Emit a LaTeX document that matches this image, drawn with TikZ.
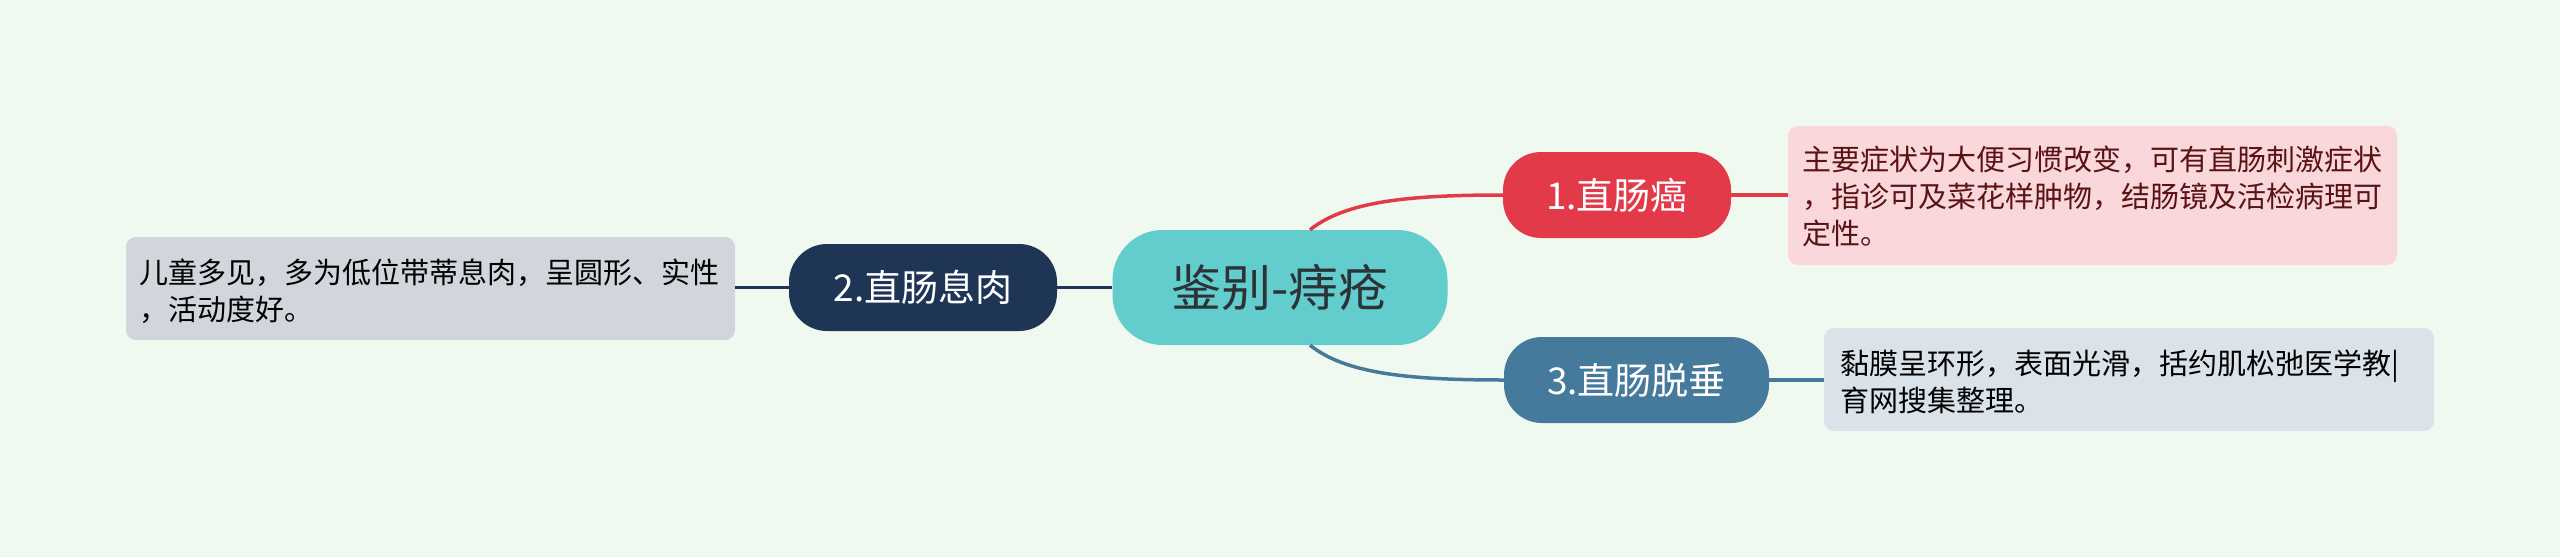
\documentclass[tikz,border=0pt]{standalone}
\usepackage{fontspec}
\newfontfamily\cjk{Noto Sans CJK SC}
\definecolor{bgc}{HTML}{F0F9EF}
\definecolor{rootc}{HTML}{63CCCC}
\definecolor{roottxt}{HTML}{2B3338}
\definecolor{redc}{HTML}{E33A4A}
\definecolor{navyc}{HTML}{1E3556}
\definecolor{bluec}{HTML}{467A9C}
\definecolor{pinkc}{HTML}{F9D7DB}
\definecolor{pinktxt}{HTML}{5A1212}
\definecolor{greyc}{HTML}{D1D6DD}
\definecolor{lbluec}{HTML}{DAE3EA}
\begin{document}
\begin{tikzpicture}[x=1pt,y=-1pt,
  topic/.style={rounded corners=38pt, minimum height=86pt, inner sep=0pt,
    font=\cjk\fontsize{37}{44}\selectfont, text=white},
  descbox/.style={rounded corners=10pt, inner sep=0pt},
  desctext/.style={anchor=west, align=left, inner sep=0pt,
    font=\cjk\fontsize{29}{37}\selectfont},
  conn/.style={line width=3.5pt}
]
\useasboundingbox[fill=bgc] (0,0) rectangle (2560,557);

\node[fill=rootc, rounded corners=50pt, minimum width=335pt, minimum height=115pt,
  inner sep=0pt, text=roottxt, font=\cjk\fontsize{50}{58}\selectfont] (root) at (1280,287.5) {鉴别-痔疮};

\node[topic, fill=redc, minimum width=228pt] (n1) at (1617,195) {1.直肠癌};
\node[topic, fill=bluec, minimum width=265pt] (n3) at (1636.5,380) {3.直肠脱垂};
\node[topic, fill=navyc, minimum width=268pt, minimum height=87pt] (n2) at (923,287.5) {2.直肠息肉};

\node[descbox, fill=pinkc, minimum width=609pt, minimum height=139pt] (d1) at (2092.5,195.5) {};
\node[desctext, text=pinktxt] (d1t) at (1802,196) {主要症状为大便习惯改变，可有直肠刺激症状\\，指诊可及菜花样肿物，结肠镜及活检病理可\\定性。};

\node[descbox, fill=lbluec, minimum width=610pt, minimum height=103pt] (d3) at (2129,379.5) {};
\node[desctext, text=black] (d3t) at (1840,382) {黏膜呈环形，表面光滑，括约肌松弛医学教|\\育网搜集整理。};

\node[descbox, fill=greyc, minimum width=609pt, minimum height=103pt] (d2) at (430.5,288.5) {};
\node[desctext, text=black] (d2t) at (139,291) {儿童多见，多为低位带蒂息肉，呈圆形、实性\\，活动度好。};

\draw[conn, redc] ([xshift=30pt]root.north) .. controls (1345,202) and (1405,195) .. (n1.west);
\draw[conn, bluec] ([xshift=30pt]root.south) .. controls (1345,373) and (1405,380) .. (n3.west);
\draw[conn, redc] (n1.east) -- (d1.west |- n1.east);
\draw[conn, bluec] (n3.east) -- (d3.west |- n3.east);
\draw[conn, navyc] (root.west) -- (n2.east);
\draw[conn, navyc] (n2.west) -- (d2.east |- n2.west);
\end{tikzpicture}
\end{document}
